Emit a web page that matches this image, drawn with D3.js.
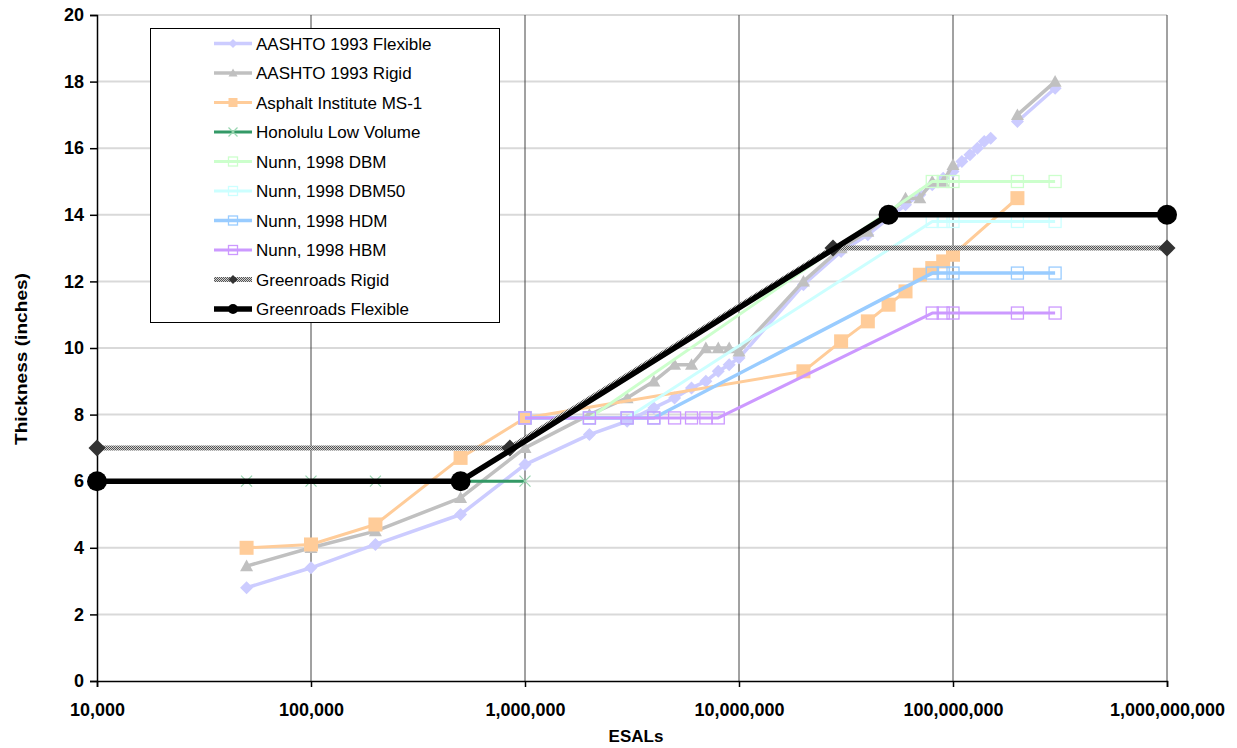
<!DOCTYPE html>
<html>
<head>
<meta charset="utf-8">
<script src="https://cdn.jsdelivr.net/npm/d3@7"></script>
<style>
  body { margin: 0; background: #fff; }
  text { font-family: "Liberation Sans", Arial, sans-serif; }
</style>
</head>
<body>
<div id="chart"></div>
<script>
var width = 1237, height = 748;

// ---- data (ESALs vs thickness in inches) ----
var xTicks = [1e4, 1e5, 1e6, 1e7, 1e8, 1e9];
var yTicks = [0, 2, 4, 6, 8, 10, 12, 14, 16, 18, 20];

var aashtoFlexEsal  = [5e4, 1e5, 2e5, 5e5, 1e6, 2e6, 3e6, 4e6, 5e6, 6e6, 7e6, 8e6, 9e6, 1e7, 2e7, 3e7, 4e7, 5e7, 6e7, 7e7, 8e7, 9e7, 1e8, 1.1e8, 1.2e8, 1.3e8, 1.4e8, 1.5e8, 1.75e8, 2e8, 3e8];
var aashtoFlexThick = [2.8, 3.4, 4.1, 5.0, 6.5, 7.4, 7.8, 8.2, 8.5, 8.8, 9.0, 9.3, 9.5, 9.7, 11.9, 12.9, 13.4, 13.9, 14.3, 14.6, 14.9, 15.1, 15.3, 15.6, 15.8, 16.0, 16.2, 16.3, null, 16.8, 17.8];

var aashtoRigidEsal  = [5e4, 1e5, 2e5, 5e5, 1e6, 2e6, 3e6, 4e6, 5e6, 6e6, 7e6, 8e6, 9e6, 1e7, 2e7, 3e7, 4e7, 5e7, 6e7, 7e7, 8e7, 9e7, 1e8, 1.5e8, 2e8, 3e8];
var aashtoRigidThick = [3.45, 4.0, 4.5, 5.5, 7.0, 8.0, 8.5, 9.0, 9.5, 9.5, 10.0, 10.0, 10.0, 9.9, 12.0, 13.0, 13.5, 14.0, 14.5, 14.5, 15.0, 15.0, 15.5, null, 17.0, 18.0];

var asphaltEsal  = [5e4, 1e5, 2e5, 5e5, 1e6, 2e7, 3e7, 4e7, 5e7, 6e7, 7e7, 8e7, 9e7, 1e8, 2e8];
var asphaltThick = [4.0, 4.1, 4.7, 6.7, 7.9, 9.3, 10.2, 10.8, 11.3, 11.7, 12.2, 12.4, 12.6, 12.8, 14.5];

var honoluluEsal  = [5e4, 1e5, 2e5, 5e5, 1e6];
var honoluluThick = [6, 6, 6, 6, 6];

var dbmEsal  = [1e6, 2e6, 8e7, 9e7, 1e8, 2e8, 3e8];
var dbmThick = [7.9, 7.9, 15.0, 15.0, 15.0, 15.0, 15.0];

var dbm50Esal  = [1e6, 2e6, 3e6, 8e7, 9e7, 1e8, 2e8, 3e8];
var dbm50Thick = [7.9, 7.9, 7.9, 13.8, 13.8, 13.8, 13.8, 13.8];

var hdmEsal  = [1e6, 2e6, 3e6, 4e6, 8e7, 9e7, 1e8, 2e8, 3e8];
var hdmThick = [7.9, 7.9, 7.9, 7.9, 12.25, 12.25, 12.25, 12.25, 12.25];

var hbmEsal  = [1e6, 2e6, 3e6, 4e6, 5e6, 6e6, 7e6, 8e6, 8e7, 9e7, 1e8, 2e8, 3e8];
var hbmThick = [7.9, 7.9, 7.9, 7.9, 7.9, 7.9, 7.9, 7.9, 11.05, 11.05, 11.05, 11.05, 11.05];

var grRigidEsal  = [1e4, 8.5e5, 2.75e7, 1e9];
var grRigidThick = [7, 7, 13, 13];

var grFlexEsal  = [1e4, 5e5, 5e7, 1e9];
var grFlexThick = [6, 6, 14, 14];

var seriesNames = ['AASHTO 1993 Flexible', 'AASHTO 1993 Rigid', 'Asphalt Institute MS-1', 'Honolulu Low Volume',
  'Nunn, 1998 DBM', 'Nunn, 1998 DBM50', 'Nunn, 1998 HDM', 'Nunn, 1998 HBM', 'Greenroads Rigid', 'Greenroads Flexible'];

// styles per series
var series = [
  {x: aashtoFlexEsal,  y: aashtoFlexThick,  color: '#ccccff', lw: 3.5, marker: 'diamond',  size: 13, fill: '#ccccff'},
  {x: aashtoRigidEsal, y: aashtoRigidThick, color: '#c0c0c0', lw: 3.5, marker: 'triangle', size: 13, fill: '#c0c0c0'},
  {x: asphaltEsal,     y: asphaltThick,     color: '#ffcc99', lw: 3,   marker: 'square',   size: 14, fill: '#ffcc99'},
  {x: honoluluEsal,    y: honoluluThick,    color: '#339966', lw: 3,   marker: 'x',        size: 11, fill: 'none', mcolor: '#99d6b0'},
  {x: dbmEsal,         y: dbmThick,         color: '#ccffcc', lw: 3,   marker: 'box',      size: 12, fill: 'none'},
  {x: dbm50Esal,       y: dbm50Thick,       color: '#ccffff', lw: 3,   marker: 'box',      size: 12, fill: 'none'},
  {x: hdmEsal,         y: hdmThick,         color: '#99ccff', lw: 3.5, marker: 'box',      size: 12, fill: 'none'},
  {x: hbmEsal,         y: hbmThick,         color: '#cc99ff', lw: 3,   marker: 'box',      size: 12, fill: 'none'},
  {x: grRigidEsal,     y: grRigidThick,     color: 'url(#checker)', lw: 5, marker: 'diamond', size: 17, fill: '#333333'},
  {x: grFlexEsal,      y: grFlexThick,      color: '#000000', lw: 5.5, marker: 'circle',   size: 20, fill: '#000000'}
];

var svg = d3.select('#chart').append('svg')
  .attr('width', width)
  .attr('height', height);

// checker pattern for the greenroads rigid line
var pat = svg.append('defs').append('pattern')
  .attr('id', 'checker')
  .attr('patternUnits', 'userSpaceOnUse')
  .attr('width', 2).attr('height', 2);
pat.append('rect').attr('width', 2).attr('height', 2).attr('fill', '#d4d4d4');
pat.append('rect').attr('width', 1).attr('height', 1).attr('fill', '#555');
pat.append('rect').attr('x', 1).attr('y', 1).attr('width', 1).attr('height', 1).attr('fill', '#555');

var x = d3.scaleLog()
  .domain([1e4, 1e9])
  .range([97, 1167]);

var y = d3.scaleLinear()
  .domain([0, 20])
  .range([681, 15]);

// gridlines
svg.append('g')
  .selectAll('line')
  .data(yTicks.slice(1))
  .enter().append('line')
  .attr('x1', x(1e4)).attr('x2', x(1e9))
  .attr('y1', function(d) { return y(d); })
  .attr('y2', function(d) { return y(d); })
  .style('stroke', '#d9d9d9')
  .style('stroke-width', 2);

svg.append('g')
  .selectAll('line')
  .data(xTicks.slice(1))
  .enter().append('line')
  .attr('x1', function(d) { return x(d); })
  .attr('x2', function(d) { return x(d); })
  .attr('y1', y(0)).attr('y2', y(20))
  .style('stroke', '#444')
  .style('stroke-width', 1);

// axes
var yAxis = svg.append('g')
  .attr('transform', 'translate(' + x(1e4) + ',0)')
  .call(d3.axisLeft(y).tickValues(yTicks).tickSize(7).tickPadding(6).tickFormat(d3.format('d')));
var xAxis = svg.append('g')
  .attr('transform', 'translate(0,' + y(0) + ')')
  .call(d3.axisBottom(x).tickValues(xTicks).tickSize(6).tickPadding(16).tickFormat(d3.format(',')));

[yAxis, xAxis].forEach(function(ax) {
  ax.select('.domain').style('stroke', '#000').style('stroke-width', 1.5);
  ax.selectAll('.tick line').style('stroke', '#000').style('stroke-width', 1.5);
  ax.selectAll('text')
    .style('font-size', '18px')
    .style('font-weight', 'bold')
    .style('font-family', '"Liberation Sans", Arial, sans-serif')
    .style('fill', '#000');
});

// axis titles
svg.append('text')
  .attr('transform', 'translate(27,359) rotate(-90)')
  .attr('text-anchor', 'middle')
  .attr('textLength', 172)
  .attr('lengthAdjust', 'spacingAndGlyphs')
  .style('font-size', '17px')
  .style('font-weight', 'bold')
  .text('Thickness (inches)');

svg.append('text')
  .attr('x', 636)
  .attr('y', 742)
  .attr('text-anchor', 'middle')
  .style('font-size', '17px')
  .style('font-weight', 'bold')
  .text('ESALs');

// marker drawing
function drawMarker(g, type, cx, cy, s, fill, stroke) {
  var h = s / 2;
  if (type === 'circle') {
    g.append('circle').attr('cx', cx).attr('cy', cy).attr('r', h).style('fill', fill);
  } else if (type === 'diamond') {
    g.append('path')
      .attr('d', 'M' + cx + ',' + (cy - h) + 'L' + (cx + h) + ',' + cy + 'L' + cx + ',' + (cy + h) + 'L' + (cx - h) + ',' + cy + 'Z')
      .style('fill', fill);
  } else if (type === 'triangle') {
    g.append('path')
      .attr('d', 'M' + cx + ',' + (cy - h) + 'L' + (cx + h) + ',' + (cy + h * 0.8) + 'L' + (cx - h) + ',' + (cy + h * 0.8) + 'Z')
      .style('fill', fill);
  } else if (type === 'square') {
    g.append('rect').attr('x', cx - h).attr('y', cy - h).attr('width', s).attr('height', s).style('fill', fill);
  } else if (type === 'box') {
    g.append('rect').attr('x', cx - h).attr('y', cy - h).attr('width', s).attr('height', s)
      .style('fill', 'none').style('stroke', stroke).style('stroke-width', 1.3);
  } else if (type === 'x') {
    g.append('path')
      .attr('d', 'M' + (cx - h) + ',' + (cy - h) + 'L' + (cx + h) + ',' + (cy + h) + 'M' + (cx + h) + ',' + (cy - h) + 'L' + (cx - h) + ',' + (cy + h))
      .style('fill', 'none').style('stroke', stroke).style('stroke-width', 1.2);
  }
}

var line = d3.line()
  .defined(function(d) { return d[1] != null; })
  .x(function(d) { return x(d[0]); })
  .y(function(d) { return y(d[1]); });

series.forEach(function(s) {
  var pts = s.x.map(function(v, i) { return [v, s.y[i]]; });
  var g = svg.append('g');
  g.append('path')
    .attr('d', line(pts))
    .style('fill', 'none')
    .style('stroke', s.color)
    .style('stroke-width', s.lw)
    .style('stroke-linejoin', 'round');
  pts.forEach(function(p) {
    if (p[1] == null) return;
    drawMarker(g, s.marker, x(p[0]), y(p[1]), s.size, s.fill, s.mcolor || s.color);
  });
});

// legend
var legend = svg.append('g');
legend.append('rect')
  .attr('x', 150.5).attr('y', 28.5)
  .attr('width', 349).attr('height', 294)
  .style('fill', '#fff')
  .style('stroke', '#000')
  .style('stroke-width', 1);

seriesNames.forEach(function(name, i) {
  var s = series[i];
  var ly = 43.5 + i * 29.5;
  var row = legend.append('g');
  row.append('line')
    .attr('x1', 214).attr('x2', 252)
    .attr('y1', ly).attr('y2', ly)
    .style('stroke', s.color)
    .style('stroke-width', s.lw);
  drawMarker(row, s.marker, 233, ly, s.marker === 'circle' ? 10 : 9, s.fill, s.mcolor || s.color);
  row.append('text')
    .attr('x', 256)
    .attr('y', ly + 6)
    .style('font-size', '17px')
    .text(name);
});
</script>
</body>
</html>
